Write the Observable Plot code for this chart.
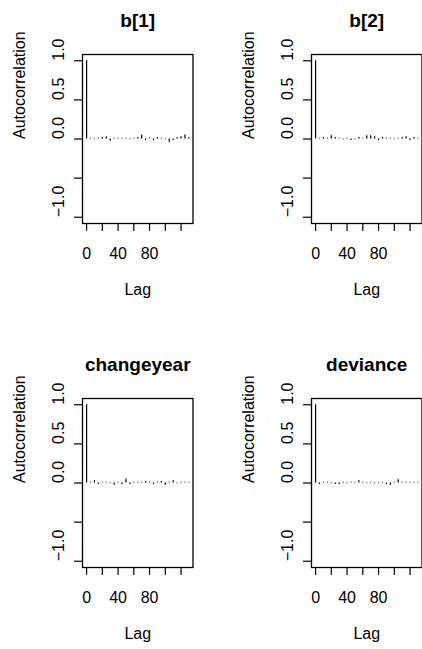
<!DOCTYPE html>
<html>
<head>
<meta charset="utf-8">
<script src="https://cdn.jsdelivr.net/npm/d3@7"></script>
<script src="https://cdn.jsdelivr.net/npm/@observablehq/plot@0.6"></script>
<style>
  html, body { margin: 0; padding: 0; background: white; }
  #wrap { position: relative; width: 422px; height: 649px; overflow: hidden; background: white; }
  .panel { position: absolute; width: 211px; height: 320px; }
  .panel svg { max-width: none !important; }
</style>
</head>
<body>
<div id="wrap"></div>
<script>
const lags = [0,5,10,15,20,25,30,35,40,45,50,55,60,65,70,75,80,85,90,95,100,105,110,115,120,125,130];
const titles = ["b[1]", "b[2]", "changeyear", "deviance"];
const acfB1 = [1, 0.01, -0.01, 0.01, 0.02, 0.03, -0.03, 0.01, 0.01, 0.01, 0.01, -0.01, 0.01, 0.02, 0.05, -0.02, 0.01, -0.02, 0.02, 0.01, -0.01, -0.04, -0.02, 0.02, 0.03, 0.05, 0.02];
const acfB2 = [1, 0.01, 0.02, 0.01, 0.04, 0.02, 0.01, -0.01, 0.01, -0.02, -0.01, 0.02, 0.01, 0.04, 0.04, 0.03, -0.02, 0.02, 0.01, 0.01, -0.01, 0.01, 0.02, 0.03, -0.02, 0.02, 0.01];
const acfChangeyear = [1, 0.01, 0.03, -0.02, 0.01, 0.01, -0.01, -0.03, 0.01, -0.02, 0.05, -0.02, 0.01, 0.01, 0.01, 0.02, 0.01, -0.02, 0.01, 0.02, -0.03, 0.01, 0.03, -0.01, 0.01, 0.01, 0.01];
const acfDeviance = [1, -0.02, 0.01, 0.01, -0.01, -0.02, -0.02, 0.01, -0.01, 0.01, 0.01, 0.03, 0.01, -0.01, 0.01, -0.01, -0.01, 0.01, -0.02, -0.03, 0.01, 0.04, 0.01, 0.01, 0.01, 0.01, 0.01];
const xTicks = [0, 20, 40, 60, 80, 100, 120];
const xTickLabels = ["0", "", "40", "", "80", "", ""];
const yTicks = [-1, -0.5, 0, 0.5, 1];
const yTickLabels = ["\u22121.0", "", "0.0", "0.5", "1.0"];
const xLabel = "Lag";
const yLabel = "Autocorrelation";

const series = [acfB1, acfB2, acfChangeyear, acfDeviance];
const positions = [[0, 0], [229, 0], [0, 344], [229, 344]];
const FONT = "'Liberation Sans', Arial, Helvetica, sans-serif";

const wrap = document.getElementById("wrap");
series.forEach((vals, i) => {
  const data = lags.map((lag, j) => ({lag, acf: vals[j]}));
  const xt = xTicks.map((t, j) => ({t, label: xTickLabels[j]})).filter(d => d.label !== "");
  const yt = yTicks.map((t, j) => ({t, label: yTickLabels[j]})).filter(d => d.label !== "");
  const chart = Plot.plot({
    width: 211,
    height: 320,
    marginLeft: 82,
    marginRight: 18.5,
    marginTop: 54,
    marginBottom: 97,
    style: {fontFamily: FONT, fontSize: "16px", background: "transparent", overflow: "visible", color: "black", maxWidth: "none"},
    x: {domain: [-5.2, 135.2]},
    y: {domain: [-1.08, 1.08]},
    marks: [
      Plot.frame({stroke: "black", strokeWidth: 1.3}),
      Plot.axisX({ticks: xTicks, tickSize: 8, tickFormat: () => "", label: null, stroke: "black", strokeWidth: 1.2}),
      Plot.axisY({ticks: yTicks, tickSize: 8, tickFormat: () => "", label: null, stroke: "black", strokeWidth: 1.2}),
      Plot.ruleX(data, {x: "lag", y1: 0, y2: "acf", stroke: "black", strokeWidth: 1.2}),
      Plot.text(xt, {x: "t", text: "label", frameAnchor: "bottom", dy: 35, fontSize: 16, fill: "black"}),
      Plot.text(yt, {y: "t", text: "label", frameAnchor: "left", dx: -24, rotate: -90, fontSize: 16, fill: "black"}),
      Plot.text([xLabel], {frameAnchor: "bottom", dy: 71, fontSize: 16, fill: "black"}),
      Plot.text([yLabel], {frameAnchor: "left", dx: -63, rotate: -90, fontSize: 16, fill: "black"}),
      Plot.text([titles[i]], {frameAnchor: "top", dy: -41, fontSize: 19, fontWeight: "bold", fill: "black"})
    ]
  });
  const div = document.createElement("div");
  div.className = "panel";
  div.style.left = positions[i][0] + "px";
  div.style.top = positions[i][1] + "px";
  div.appendChild(chart);
  wrap.appendChild(div);
});
</script>
</body>
</html>
